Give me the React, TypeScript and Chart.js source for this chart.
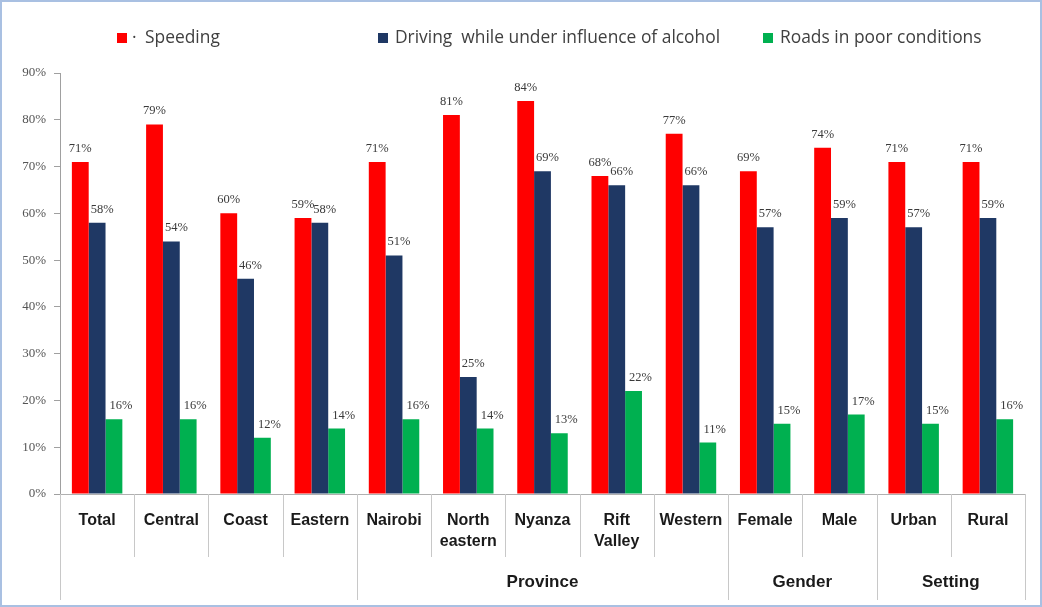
import React, { useEffect, useRef } from 'react';
import { Chart, registerables } from 'chart.js';

Chart.register(...registerables);

const categories: (string | string[])[] = [
  'Total', 'Central', 'Coast', 'Eastern', 'Nairobi', ['North', 'eastern'], 'Nyanza',
  ['Rift', 'Valley'], 'Western', 'Female', 'Male', 'Urban', 'Rural',
];
const speeding = [71, 79, 60, 59, 71, 81, 84, 68, 77, 69, 74, 71, 71];
const alcohol = [58, 54, 46, 58, 51, 25, 69, 66, 66, 57, 59, 57, 59];
const roads = [16, 16, 12, 14, 16, 14, 13, 22, 11, 15, 17, 15, 16];
const seriesLabels = ['Speeding', 'Driving  while under influence of alcohol', 'Roads in poor conditions'];
const seriesColors = ['#FF0000', '#1F3864', '#00B050'];
const groupLabels = ['', 'Province', 'Gender', 'Setting'];
const groupStarts = [0, 4, 9, 11];
const yMax = 90;
const yStep = 10;

const legendX = [117, 378, 763];
const labelOffsetX = [0, 5, 7];

const decorPlugin = {
  id: 'decor',
  beforeDraw(chart: any) {
    const ctx = chart.ctx;
    ctx.save();
    ctx.fillStyle = '#ffffff';
    ctx.fillRect(0, 0, chart.width, chart.height);
    ctx.restore();
  },
  afterDatasetsDraw(chart: any) {
    const ctx = chart.ctx;
    ctx.save();
    ctx.font = '12.5px "Liberation Serif", serif';
    ctx.fillStyle = '#3a3a3a';
    ctx.textAlign = 'center';
    ctx.textBaseline = 'bottom';
    chart.data.datasets.forEach((ds: any, di: number) => {
      const meta = chart.getDatasetMeta(di);
      meta.data.forEach((el: any, i: number) => {
        ctx.fillText(ds.data[i] + '%', el.x + labelOffsetX[di], el.y - 7);
      });
    });
    ctx.restore();
  },
  afterDraw(chart: any) {
    const ctx = chart.ctx;
    const xs = chart.scales.x;
    const { left, right, bottom } = chart.chartArea;
    const n = categories.length;
    const bound = (i: number) =>
      i === 0 ? left : i === n ? right : (xs.getPixelForValue(i - 1) + xs.getPixelForValue(i)) / 2;
    ctx.save();
    ctx.strokeStyle = '#c8c8c8';
    ctx.lineWidth = 1;
    for (let i = 0; i <= n; i++) {
      const isLong = groupStarts.includes(i) || i === n;
      const bx = Math.round(bound(i)) + 0.5;
      ctx.beginPath();
      ctx.moveTo(bx, bottom);
      ctx.lineTo(bx, isLong ? 600 : 557);
      ctx.stroke();
    }
    ctx.font = 'bold 17px "Liberation Sans", Arial, sans-serif';
    ctx.fillStyle = '#1a1a1a';
    ctx.textAlign = 'center';
    ctx.textBaseline = 'middle';
    groupLabels.forEach((g, gi) => {
      if (!g) return;
      const s = groupStarts[gi];
      const e = gi + 1 < groupStarts.length ? groupStarts[gi + 1] : n;
      ctx.fillText(g, (bound(s) + bound(e)) / 2, 582);
    });
    // legend
    ctx.font = '17.4px "Open Sans", sans-serif';
    ctx.textAlign = 'left';
    ctx.textBaseline = 'middle';
    chart.data.datasets.forEach((ds: any, di: number) => {
      const lx = legendX[di];
      ctx.fillStyle = ds.backgroundColor;
      ctx.fillRect(lx, 33, 10, 10);
      ctx.fillStyle = '#404040';
      let tx = lx + 17;
      if (di === 0) {
        ctx.fillText('·', lx + 15, 38);
        tx = lx + 28;
      }
      ctx.fillText(ds.label, tx, 38);
    });
    // border
    ctx.strokeStyle = '#a9c0e2';
    ctx.lineWidth = 2;
    ctx.strokeRect(1, 1, chart.width - 2, chart.height - 2);
    ctx.restore();
  },
};

export default function App() {
  const ref = useRef<HTMLCanvasElement>(null);
  useEffect(() => {
    document.body.style.margin = '0';
    const chart = new Chart(ref.current!, {
      type: 'bar',
      data: {
        labels: categories as any,
        datasets: [speeding, alcohol, roads].map((d, i) => ({
          label: seriesLabels[i],
          data: d,
          backgroundColor: seriesColors[i],
          borderWidth: 0,
          categoryPercentage: 0.68,
          barPercentage: 1,
        })),
      },
      options: {
        responsive: false,
        animation: false,
        layout: { padding: { top: 73, right: 17, left: 0, bottom: 0 } },
        plugins: { legend: { display: false }, tooltip: { enabled: false } },
        scales: {
          x: {
            grid: { display: false },
            border: { display: true, color: '#b0b0b0' },
            ticks: {
              autoSkip: false,
              maxRotation: 0,
              color: '#1a1a1a',
              padding: 8,
              font: { family: '"Liberation Sans", Arial, sans-serif', size: 16, weight: 'bold', lineHeight: 1.3 },
            },
            afterFit: (s: any) => { s.height = 113; },
          },
          y: {
            min: 0,
            max: yMax,
            ticks: {
              stepSize: yStep,
              color: '#555555',
              padding: 8,
              font: { family: '"Liberation Serif", serif', size: 13 },
              callback: (v: any) => v + '%',
            },
            grid: { drawOnChartArea: false, tickLength: 6, color: '#a0a0a0' },
            border: { display: true, color: '#a0a0a0' },
            afterFit: (s: any) => { s.width = 60; },
          },
        },
      },
      plugins: [decorPlugin],
    });
    return () => chart.destroy();
  }, []);
  return (
    <div style={{ width: 1042, height: 607 }}>
      <canvas ref={ref} width={1042} height={607} />
    </div>
  );
}
